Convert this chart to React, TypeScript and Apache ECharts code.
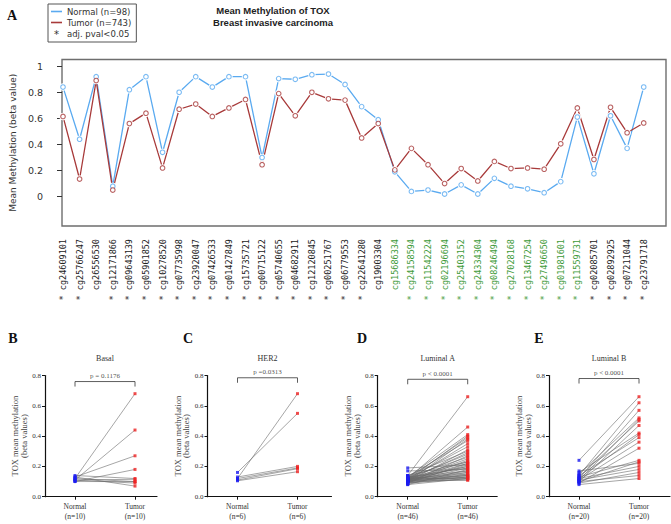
import React, { useEffect, useRef } from 'react';
import * as echarts from 'echarts';

// ---------- Panel A data ----------
const probes = [
  'cg24609101', 'cg25766247', 'cg26556530', 'cg12171866', 'cg09643139', 'cg05901852',
  'cg10278520', 'cg07735998', 'cg23920047', 'cg07426533', 'cg01427849', 'cg15735721',
  'cg00715122', 'cg05740655', 'cg04682911', 'cg12120845', 'cg00251767', 'cg06779553',
  'cg22641280', 'cg19003304', 'cg15686334', 'cg24158594', 'cg11542224', 'cg02196694',
  'cg25403152', 'cg24334304', 'cg08246494', 'cg27028168', 'cg13467254', 'cg27496650',
  'cg01981601', 'cg11559731', 'cg02085701', 'cg02892925', 'cg07211044', 'cg23791718',
];
const significant = [
  true, true, false, true, true, true, true, true, true, true, true, true,
  true, true, true, true, true, true, true, false, false, true, true, true,
  true, true, true, true, true, true, true, true, true, true, true, true,
];
const highlighted = [
  false, false, false, false, false, false, false, false, false, false, false, false,
  false, false, false, false, false, false, false, false, true, true, true, true,
  true, true, true, true, true, true, true, true, false, false, false, false,
];
const normalBeta = [
  0.84, 0.44, 0.92, 0.08, 0.82, 0.92, 0.34, 0.80, 0.92, 0.84, 0.92, 0.92,
  0.30, 0.905, 0.90, 0.935, 0.94, 0.86, 0.69, 0.59, 0.19, 0.04, 0.05, 0.02,
  0.09, 0.02, 0.14, 0.08, 0.06, 0.03, 0.115, 0.61, 0.175, 0.62, 0.37, 0.84,
];
const tumorBeta = [
  0.615, 0.135, 0.89, 0.05, 0.56, 0.64, 0.22, 0.67, 0.71, 0.615, 0.68, 0.745,
  0.245, 0.79, 0.62, 0.80, 0.75, 0.74, 0.45, 0.56, 0.205, 0.37, 0.245, 0.10,
  0.215, 0.12, 0.27, 0.215, 0.22, 0.21, 0.405, 0.68, 0.285, 0.685, 0.49, 0.565,
];
const yTicksA = [0, 0.2, 0.4, 0.6, 0.8, 1];

// ---------- Panels B-E data ----------
const subtypes = ['Basal', 'HER2', 'Luminal A', 'Luminal B'];
const pLabels = ['p = 0.1176', 'p =0.0313', 'p < 0.0001', 'p < 0.0001'];
const basalNormal = [0.12, 0.11, 0.13, 0.10, 0.14, 0.11, 0.12, 0.10, 0.11, 0.13];
const basalTumor = [0.68, 0.44, 0.27, 0.18, 0.12, 0.115, 0.10, 0.10, 0.09, 0.07];
const her2Normal = [0.12, 0.16, 0.13, 0.12, 0.11, 0.105];
const her2Tumor = [0.68, 0.55, 0.20, 0.19, 0.185, 0.165];
const lumANormal = [
  0.14, 0.12, 0.13, 0.11, 0.12, 0.10, 0.13, 0.11, 0.12, 0.10, 0.14, 0.11,
  0.12, 0.09, 0.13, 0.11, 0.10, 0.12, 0.14, 0.11, 0.09, 0.19, 0.10, 0.12,
  0.11, 0.13, 0.10, 0.17, 0.08, 0.11, 0.13, 0.12, 0.10, 0.12, 0.09, 0.11,
  0.10, 0.12, 0.09, 0.11, 0.10, 0.08, 0.12, 0.09, 0.11, 0.10,
];
const lumATumor = [
  0.66, 0.46, 0.41, 0.40, 0.39, 0.38, 0.37, 0.35, 0.33, 0.31, 0.30, 0.29,
  0.28, 0.27, 0.26, 0.25, 0.24, 0.23, 0.23, 0.22, 0.22, 0.21, 0.21, 0.20,
  0.20, 0.19, 0.19, 0.18, 0.18, 0.17, 0.17, 0.16, 0.16, 0.15, 0.15, 0.14,
  0.14, 0.14, 0.13, 0.13, 0.13, 0.12, 0.12, 0.12, 0.11, 0.11,
];
const lumBNormal = [
  0.24, 0.14, 0.12, 0.15, 0.11, 0.13, 0.10, 0.16, 0.12, 0.14,
  0.11, 0.09, 0.13, 0.10, 0.17, 0.12, 0.11, 0.09, 0.10, 0.08,
];
const lumBTumor = [
  0.66, 0.62, 0.57, 0.52, 0.51, 0.50, 0.47, 0.42, 0.41, 0.39,
  0.36, 0.32, 0.24, 0.23, 0.22, 0.20, 0.18, 0.16, 0.14, 0.12,
];
const pairTicks = [1, 2];

// ---------- styling / layout ----------
const BLUE = '#5aaaf0';
const RED = '#a83a3a';
const GREEN = '#3d9a38';
const SERIF = 'Liberation Serif';
const SANS = 'DejaVu Sans';

const yMinA = -0.2254;
const yMaxA = 1.0515;

const panelLayout = [
  { left: 45, width: 112, letterX: 13, bracketY: 0.76 },
  { left: 207.5, width: 124, letterX: 188, bracketY: 0.785 },
  { left: 377.7, width: 119.5, letterX: 362, bracketY: 0.775 },
  { left: 549, width: 121, letterX: 539, bracketY: 0.78 },
];
const panelLetters = ['B', 'C', 'D', 'E'];
const PANEL_TOP = 375.5;
const PANEL_H = 121.2;
const PX_PER_UNIT = 60;

function buildOption() {
  const panels = [
    { normal: basalNormal, tumor: basalTumor },
    { normal: her2Normal, tumor: her2Tumor },
    { normal: lumANormal, tumor: lumATumor },
    { normal: lumBNormal, tumor: lumBTumor },
  ];

  const grid: any[] = [
    { left: 40, top: 59.5, width: 626, height: 166.5, show: true, borderColor: '#6e6e6e', borderWidth: 1.4, backgroundColor: 'transparent' },
    { left: 54.7, top: 59.5, width: 597.3, height: 166.5 },
  ];
  const xAxis: any[] = [
    { gridIndex: 0, type: 'value', show: false, min: 0, max: 1 },
    {
      gridIndex: 1,
      type: 'category',
      data: probes,
      boundaryGap: true,
      axisLine: { show: false },
      axisTick: { alignWithLabel: true, length: 5, lineStyle: { color: '#333' } },
      axisLabel: {
        interval: 0,
        rotate: 90,
        margin: 13,
        fontFamily: 'DejaVu Sans Mono',
        fontSize: 8.5,
        formatter: (v: string) => {
          const i = probes.indexOf(v);
          return (significant[i] ? '* ' : '') + v;
        },
        color: (v: string) => (highlighted[probes.indexOf(v)] ? GREEN : '#222'),
      },
      splitLine: { show: false },
    },
  ];
  const yAxis: any[] = [
    {
      gridIndex: 0,
      type: 'value',
      min: yMinA,
      max: yMaxA,
      offset: 3,
      axisLine: { show: false },
      axisTick: { show: true, customValues: yTicksA, length: 5, lineStyle: { color: '#333' } },
      axisLabel: { customValues: yTicksA, formatter: (v: number) => String(v), margin: 16, fontSize: 9.5, color: '#333', fontFamily: SANS },
      splitLine: { show: false },
      name: 'Mean Methylation (beta value)',
      nameLocation: 'middle',
      nameGap: 31,
      nameTextStyle: { fontSize: 9, color: '#333', fontFamily: SANS },
    },
    { gridIndex: 1, type: 'value', min: yMinA, max: yMaxA, show: false },
  ];

  const series: any[] = [
    {
      name: 'Normal (n=98)', type: 'line', xAxisIndex: 1, yAxisIndex: 1, data: normalBeta,
      color: BLUE, symbol: 'circle', symbolSize: 7.5,
      itemStyle: { color: '#fff', borderWidth: 0 },
      lineStyle: { color: BLUE, width: 1.3 }, z: 2,
    },
    {
      name: 'Tumor (n=743)', type: 'line', xAxisIndex: 1, yAxisIndex: 1, data: tumorBeta,
      color: RED, symbol: 'circle', symbolSize: 7.5,
      itemStyle: { color: '#fff', borderWidth: 0 },
      lineStyle: { color: RED, width: 1.3 }, z: 2,
    },
    {
      name: 'Normal points', type: 'scatter', xAxisIndex: 1, yAxisIndex: 1, data: normalBeta,
      symbol: 'circle', symbolSize: 4.6, itemStyle: { color: '#fff', borderColor: BLUE, borderWidth: 1.1 }, z: 4,
    },
    {
      name: 'Tumor points', type: 'scatter', xAxisIndex: 1, yAxisIndex: 1, data: tumorBeta,
      symbol: 'circle', symbolSize: 4.6, itemStyle: { color: '#fff', borderColor: RED, borderWidth: 1.1 }, z: 4,
    },
    { name: 'adj. pval<0.05', type: 'line', xAxisIndex: 1, yAxisIndex: 1, data: [], color: '#333' },
  ];

  const titles: any[] = [
    {
      text: 'Mean Methylation of TOX\nBreast invasive carcinoma',
      left: 273, top: 5, textAlign: 'center', padding: 0,
      textStyle: { fontSize: 9.5, fontWeight: 'bold', lineHeight: 11.5, color: '#222', fontFamily: 'Liberation Sans' },
    },
    {
      text: 'A', left: 12, top: 8, textAlign: 'center', padding: 0,
      textStyle: { fontSize: 14, fontWeight: 'bold', color: '#111', fontFamily: SERIF },
    },
  ];

  panels.forEach((p, i) => {
    const L = panelLayout[i];
    const g = 2 + i;
    grid.push({ left: L.left, top: PANEL_TOP, width: L.width, height: PANEL_H });
    xAxis.push({
      gridIndex: g, type: 'value', min: 0.5, max: 0.5 + L.width / PX_PER_UNIT,
      axisLine: { show: true, lineStyle: { color: '#111', width: 1.2 } },
      axisTick: { show: true, customValues: pairTicks, length: 3, lineStyle: { color: '#111' } },
      axisLabel: {
        customValues: pairTicks, margin: 5, fontSize: 7.5, lineHeight: 10, color: '#333', fontFamily: SERIF,
        formatter: (v: number) => (v === 1 ? `Normal\n(n=${p.normal.length})` : `Tumor\n(n=${p.tumor.length})`),
      },
      splitLine: { show: false },
    });
    yAxis.push({
      gridIndex: g, type: 'value', min: 0, max: 0.8, interval: 0.2,
      axisLine: { show: true, lineStyle: { color: '#111', width: 1.2 } },
      axisTick: { show: true, length: 3, lineStyle: { color: '#111' } },
      axisLabel: { formatter: (v: number) => v.toFixed(1), fontSize: 7, margin: 4, color: '#333', fontFamily: SERIF },
      splitLine: { show: false },
      name: 'TOX mean methylation\n(beta values)',
      nameLocation: 'middle', nameGap: 15,
      nameTextStyle: { fontSize: 8.5, lineHeight: 8.5, color: '#444', fontFamily: SERIF },
    });
    p.normal.forEach((n, k) => {
      series.push({
        type: 'line', xAxisIndex: g, yAxisIndex: g, silent: true,
        data: [[1, n], [2, p.tumor[k]]], symbol: 'none',
        lineStyle: { color: '#6a6a6a', width: 0.6 }, z: 2,
      });
    });
    series.push({
      type: 'scatter', xAxisIndex: g, yAxisIndex: g, data: p.normal.map((v) => [1, v]),
      symbol: 'rect', symbolSize: 3, itemStyle: { color: '#1c1cf0' }, z: 3,
    });
    series.push({
      type: 'scatter', xAxisIndex: g, yAxisIndex: g, data: p.tumor.map((v) => [2, v]),
      symbol: 'rect', symbolSize: 3, itemStyle: { color: '#ee2222' }, z: 3,
    });
    const hi = L.bracketY;
    const lo = hi - 0.033;
    series.push({
      type: 'line', xAxisIndex: g, yAxisIndex: g, silent: true,
      data: [[1, lo], [1, hi], [2, hi], [2, lo]], symbol: 'none',
      lineStyle: { color: '#333', width: 0.8 },
    });
    series.push({
      type: 'scatter', xAxisIndex: g, yAxisIndex: g, silent: true,
      data: [[1.5, hi]], symbolSize: 0,
      label: { show: true, position: 'top', distance: 2, formatter: pLabels[i], fontSize: 7, color: '#222', fontFamily: SERIF },
    });
    titles.push({
      text: subtypes[i], left: L.left + PX_PER_UNIT, top: 354, textAlign: 'center', padding: 0,
      textStyle: { fontSize: 8, fontWeight: 'normal', color: '#333', fontFamily: SERIF },
    });
    titles.push({
      text: panelLetters[i], left: L.letterX, top: 331, textAlign: 'center', padding: 0,
      textStyle: { fontSize: 14, fontWeight: 'bold', color: '#111', fontFamily: SERIF },
    });
  });

  return {
    animation: false,
    backgroundColor: '#fff',
    title: titles,
    legend: {
      left: 48, top: 4, orient: 'vertical', selectedMode: false,
      padding: [3, 5, 4, 3], itemGap: 2, itemWidth: 11, itemHeight: 1.6,
      borderColor: '#555', borderWidth: 1,
      textStyle: { fontSize: 8.5, color: '#333', fontFamily: SANS },
      data: [
        { name: 'Normal (n=98)', icon: 'rect', itemStyle: { color: BLUE, borderWidth: 0 } },
        { name: 'Tumor (n=743)', icon: 'rect', itemStyle: { color: RED, borderWidth: 0 } },
        { name: 'adj. pval<0.05', icon: 'none' },
      ],
    },
    graphic: [
      { type: 'text', x: 56.5, y: 34, style: { text: '*', fontSize: 10, fill: '#333', fontFamily: SANS, align: 'center', verticalAlign: 'middle' } },
    ],
    grid,
    xAxis,
    yAxis,
    series,
  };
}

export default function App() {
  const ref = useRef<HTMLDivElement>(null);
  useEffect(() => {
    document.body.style.margin = '0';
    const chart = echarts.init(ref.current!, null, { renderer: 'svg' });
    chart.setOption(buildOption() as any);
    return () => chart.dispose();
  }, []);
  return <div ref={ref} style={{ width: 671, height: 524, position: 'absolute', left: 0, top: 0 }} />;
}
